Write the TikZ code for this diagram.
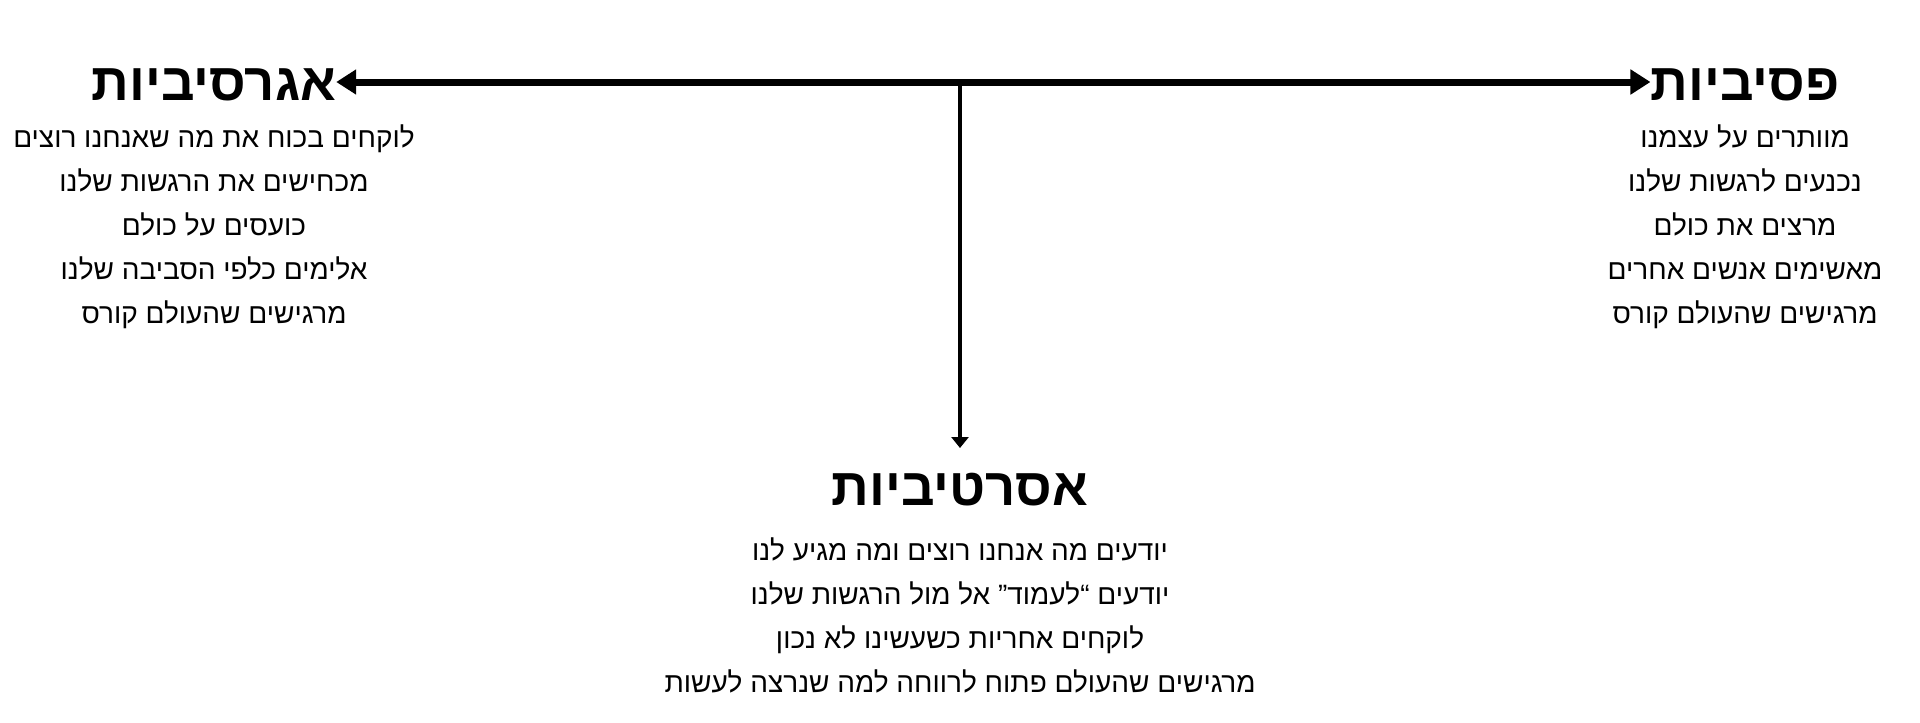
\documentclass[tikz,border=0pt]{standalone}
\usepackage{fontspec}
\usetikzlibrary{arrows.meta}
\TeXXeTstate=1
\newfontfamily\hebfont[Script=Hebrew]{Liberation Sans}
\begin{document}
\begin{tikzpicture}[x=1pt,y=-1pt,
  titlebox/.style={font=\hebfont\bfseries\fontsize{52.5}{56}\selectfont, inner sep=0pt, anchor=base},
  bodyline/.style={font=\hebfont\fontsize{28}{34}\selectfont, inner sep=0pt, anchor=base},
  hline/.style={line width=7pt, {Triangle[length=20pt,width=24pt]}-{Triangle[length=20pt,width=24pt]}},
  vline/.style={line width=4pt, -{Triangle[length=11pt,width=17pt]}}]
\useasboundingbox (0,0) rectangle (1920,723);
% titles
\node[titlebox] (agr) at (214,100.5) {\beginR אגרסיביות\endR};
\node[titlebox] (pas) at (1745,100.5) {\beginR פסיביות\endR};
\node[titlebox] (ast) at (960,505.5) {\beginR אסרטיביות\endR};
% connectors
\coordinate (mid) at (960,82);
\coordinate (vend) at (960,448);
\draw[hline] (agr.east |- mid) -- (pas.west |- mid);
\draw[vline] (mid) -- (vend);
% left column
\node[bodyline] (a1) at (214,147) {\beginR לוקחים בכוח את מה שאנחנו רוצים\endR};
\node[bodyline] (a2) at (214,191) {\beginR מכחישים את הרגשות שלנו\endR};
\node[bodyline] (a3) at (214,235) {\beginR כועסים על כולם\endR};
\node[bodyline] (a4) at (214,279) {\beginR אלימים כלפי הסביבה שלנו\endR};
\node[bodyline] (a5) at (214,323) {\beginR מרגישים שהעולם קורס\endR};
% right column
\node[bodyline] (p1) at (1745,147) {\beginR מוותרים על עצמנו\endR};
\node[bodyline] (p2) at (1745,191) {\beginR נכנעים לרגשות שלנו\endR};
\node[bodyline] (p3) at (1745,235) {\beginR מרצים את כולם\endR};
\node[bodyline] (p4) at (1745,279) {\beginR מאשימים אנשים אחרים\endR};
\node[bodyline] (p5) at (1745,323) {\beginR מרגישים שהעולם קורס\endR};
% centre column
\node[bodyline] (s1) at (960,560) {\beginR יודעים מה אנחנו רוצים ומה מגיע לנו\endR};
\node[bodyline] (s2) at (960,604) {\beginR יודעים “לעמוד” אל מול הרגשות שלנו\endR};
\node[bodyline] (s3) at (960,648) {\beginR לוקחים אחריות כשעשינו לא נכון\endR};
\node[bodyline] (s4) at (960,692) {\beginR מרגישים שהעולם פתוח לרווחה למה שנרצה לעשות\endR};
\end{tikzpicture}
\end{document}
